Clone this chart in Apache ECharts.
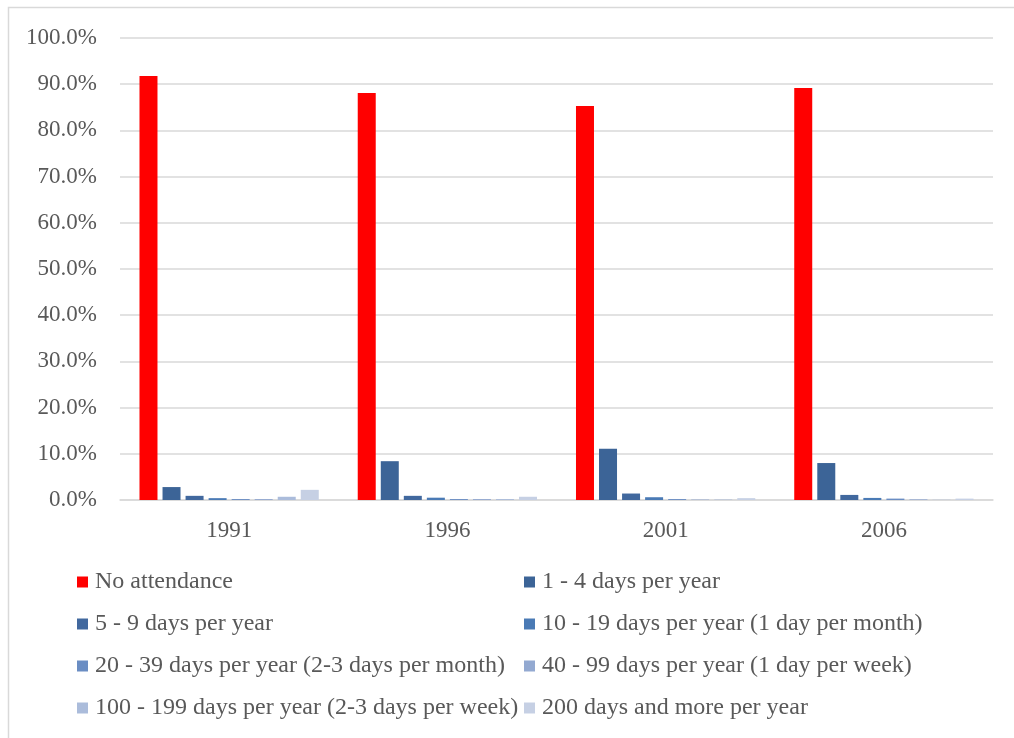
<!DOCTYPE html>
<html>
<head>
<meta charset="utf-8">
<script src="https://cdn.jsdelivr.net/npm/echarts@6/dist/echarts.min.js"></script>
<style>
  html, body { margin: 0; padding: 0; background: #fff; }
  #chart { width: 1014px; height: 738px; }
</style>
</head>
<body>
<div id="chart"></div>
<script>
// Survey years
const years = ['1991', '1996', '2001', '2006'];

// Attendance frequency groups (share of respondents, %)
const noAttendance   = [91.8, 88.1, 85.3, 89.2];
const days1to4       = [2.8, 8.4, 11.1, 8.0];
const days5to9       = [0.9, 0.9, 1.4, 1.1];
const days10to19     = [0.4, 0.5, 0.6, 0.45];
const days20to39     = [0.2, 0.2, 0.2, 0.3];
const days40to99     = [0.2, 0.2, 0.1, 0.15];
const days100to199   = [0.7, 0.2, 0.1, 0.05];
const days200plus    = [2.2, 0.7, 0.4, 0.3];

const seriesNames = [
  'No attendance',
  '1 - 4 days per year',
  '5 - 9 days per year',
  '10 - 19 days per year (1 day per month)',
  '20 - 39 days per year (2-3 days per month)',
  '40 - 99 days per year (1 day per week)',
  '100 - 199 days per year (2-3 days per week)',
  '200 days and more per year'
];
const seriesData = [noAttendance, days1to4, days5to9, days10to19, days20to39, days40to99, days100to199, days200plus];
const seriesColors = ['#FF0000', '#3C6497', '#41689E', '#4A7AB5', '#6A8DC3', '#93A9D1', '#ABBCDB', '#C6D0E4'];

// Y axis ticks
const yMin = 0, yMax = 100, yStep = 10;

const textColor = '#595959';
const fontFamily = '"Liberation Serif", "Times New Roman", serif';
const axisFontSize = 23;
const legendFontSize = 24;

const chart = echarts.init(document.getElementById('chart'), null, { renderer: 'canvas' });

const legendCommon = {
  orient: 'vertical',
  padding: 0,
  itemWidth: 11,
  itemHeight: 11,
  itemGap: 18,
  icon: 'rect',
  textStyle: { color: textColor, fontFamily: fontFamily, fontSize: legendFontSize, padding: [0, 0, 0, 2] }
};

chart.setOption({
  animation: false,
  backgroundColor: '#ffffff',
  textStyle: { fontFamily: fontFamily },
  graphic: [{
    type: 'rect',
    shape: { x: 8.5, y: 7.5, width: 1100, height: 800 },
    style: { fill: 'none', stroke: '#d9d9d9', lineWidth: 1.5 },
    silent: true,
    z: -1
  }],
  grid: { left: 120, right: 21, top: 38, bottom: 238, containLabel: false },
  legend: [
    Object.assign({}, legendCommon, {
      left: 77, top: 570,
      data: [seriesNames[0], seriesNames[2], seriesNames[4], seriesNames[6]]
    }),
    Object.assign({}, legendCommon, {
      left: 524, top: 570,
      data: [seriesNames[1], seriesNames[3], seriesNames[5], seriesNames[7]]
    })
  ],
  xAxis: {
    type: 'category',
    data: years,
    axisLine: { lineStyle: { color: '#d9d9d9', width: 1.5 } },
    axisTick: { show: false },
    axisLabel: { color: textColor, fontFamily: fontFamily, fontSize: axisFontSize, margin: 19 }
  },
  yAxis: {
    type: 'value',
    min: yMin, max: yMax, interval: yStep,
    axisLine: { show: false },
    axisTick: { show: false },
    splitLine: { lineStyle: { color: '#d9d9d9', width: 1.5 } },
    axisLabel: {
      color: textColor, fontFamily: fontFamily, fontSize: axisFontSize, margin: 23,
      formatter: v => v.toFixed(1) + '%'
    }
  },
  series: seriesNames.map((name, i) => ({
    name: name,
    type: 'bar',
    data: seriesData[i],
    barWidth: 18,
    barGap: '28%',
    itemStyle: { color: seriesColors[i] }
  }))
});
</script>
</body>
</html>
